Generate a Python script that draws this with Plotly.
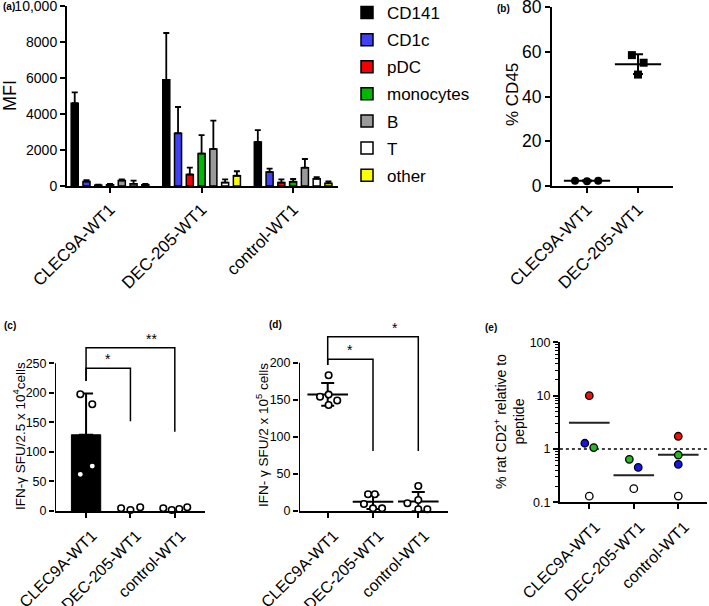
import numpy as np
import plotly.graph_objects as go

W, H = 709, 606
FONT = "Liberation Sans, Arial, sans-serif"

groups = ["CLEC9A-WT1", "DEC-205-WT1", "control-WT1"]

# (a) MFI per cell subset (mean and upper error)
cells = ["CD141", "CD1c", "pDC", "monocytes", "B", "T", "other"]
cd141 = [4600, 5900, 2450]
cd1c = [250, 2930, 780]
pdc = [50, 640, 190]
monocytes = [70, 1800, 240]
b_cells = [300, 2060, 1020]
t_cells = [120, 190, 400]
other = [70, 570, 150]
cd141_err = [600, 2600, 650]
cd1c_err = [80, 1460, 190]
pdc_err = [20, 380, 180]
monocytes_err = [40, 1030, 150]
b_cells_err = [60, 1570, 480]
t_cells_err = [180, 180, 90]
other_err = [50, 250, 110]
cell_colors = ["#000000", "#4040f4", "#f40000", "#00b800", "#9a9a9a", "#ffffff", "#ffff00"]

# (b) % CD45
cd45_clec9a = [2.4, 2.1, 2.4]
cd45_dec205 = [58.5, 55.1, 49.8]

# (c) IFN-g SFU / 2.5 x 10^4 cells
c_clec9a = [197.5, 180.6, 62, 76]
c_dec205 = [4.6, 1.7, 6.3]
c_control = [4.6, 1.7, 3.4, 6.3]

# (d) IFN-g SFU / 2 x 10^5 cells
d_clec9a = [183, 154, 157, 149, 143]
d_dec205 = [22.5, 22.5, 9.4, 3.6, 3.6]
d_control = [33.7, 10.4, 14.8, 2.3, 2.3]

# (e) % rat CD2+ relative to peptide
e_clec9a = [10, 1.28, 1.06, 0.13]
e_dec205 = [0.64, 0.45, 0.18]
e_control = [1.73, 0.77, 0.516, 0.131]
e_means = [3.1, 0.32, 0.78]
e_clec9a_col = ["red", "blue", "green", "white"]
e_dec205_col = ["green", "blue", "white"]
e_control_col = ["red", "green", "blue", "white"]

# significance brackets: (height, left leg end, right leg end, right group, label)
c_brackets = [(276.5, 220, 134, 2, "**"), (241.6, 220, 152, 1, "*")]
d_brackets = [(235, 197, 81, 2, "*"), (204.6, 197, 81, 1, "*")]

# jitter of the dots within a column (layout only)
jit_b = [[-0.235, 0, 0.22], [-0.12, 0.11, 0]]
jit_c = [[-0.13, 0.14, -0.13, 0.14], [-0.21, 0, 0.22], [-0.26, -0.07, 0.1, 0.28]]
jit_d = [[0.02, -0.17, 0.02, 0.21, 0.02], [-0.11, 0.04, -0.2, 0, 0.2], [0, -0.24, 0, 0, 0.2]]
jit_e = [[0, -0.1, 0.1, 0], [-0.1, 0.1, 0], [0, 0, 0, 0]]
pal_e = {"red": "#ee1111", "blue": "#1515ee", "green": "#22bb22", "white": "#ffffff"}


def xd(p0, p1):
    return [p0 / W, p1 / W]


def yd(pb, pt):
    return [1 - pb / H, 1 - pt / H]


def axis(domain, rng, anchor, fs, **kw):
    d = dict(domain=domain, range=rng, anchor=anchor, showline=True, linewidth=2,
             linecolor="black", ticks="outside", ticklen=5, tickwidth=2, tickcolor="black",
             showgrid=False, zeroline=False, fixedrange=True, automargin=False,
             ticklabeloverflow="allow",
             tickfont=dict(family=FONT, size=fs, color="black"))
    d.update(kw)
    return d


fig = go.Figure()

# ---- (a)
means_a = [cd141, cd1c, pdc, monocytes, b_cells, t_cells, other]
errs_a = [cd141_err, cd1c_err, pdc_err, monocytes_err, b_cells_err, t_cells_err, other_err]
for name, m, e, col in zip(cells, means_a, errs_a, cell_colors):
    fig.add_trace(go.Bar(
        x=[0, 1, 2], y=m, name=name, legendgroup=name, marker_color=col,
        marker_line=dict(color="black", width=1.5),
        error_y=dict(type="data", symmetric=False, array=e, arrayminus=[0, 0, 0],
                     color="black", thickness=1.8, width=3),
        xaxis="x", yaxis="y"))

# ---- (b)
for i, (vals, sym) in enumerate([(cd45_clec9a, "circle"), (cd45_dec205, "square")]):
    fig.add_trace(go.Scatter(
        x=[i + j for j in jit_b[i]], y=vals, mode="markers",
        marker=dict(symbol=sym, size=8, color="black"),
        showlegend=False, xaxis="x2", yaxis="y2"))
    fig.add_trace(go.Scatter(
        x=[i], y=[np.mean(vals)], mode="markers",
        marker=dict(symbol="line-ew", size=33, line=dict(width=2, color="black")),
        error_y=dict(type="data", array=[np.std(vals, ddof=1)], color="black", thickness=2, width=5),
        showlegend=False, xaxis="x2", yaxis="y2"))

# ---- (c)
c_sets = [c_clec9a, c_dec205, c_control]
fig.add_trace(go.Bar(
    x=[0], y=[np.mean(c_clec9a)], width=0.66, marker_color="black",
    marker_line=dict(color="black", width=1),
    error_y=dict(type="data", symmetric=False, array=[np.std(c_clec9a, ddof=1)],
                 arrayminus=[0], color="black", thickness=2, width=7),
    showlegend=False, xaxis="x3", yaxis="y3"))
for i, vals in enumerate(c_sets):
    fig.add_trace(go.Scatter(
        x=[i + j for j in jit_c[i]], y=vals, mode="markers", cliponaxis=False,
        marker=dict(symbol="circle", size=6.5, color="white", line=dict(width=1.6, color="black")),
        showlegend=False, xaxis="x3", yaxis="y3"))

# ---- (d)
d_sets = [d_clec9a, d_dec205, d_control]
for i, vals in enumerate(d_sets):
    fig.add_trace(go.Scatter(
        x=[i], y=[np.mean(vals)], mode="markers",
        marker=dict(symbol="line-ew", size=29, line=dict(width=2, color="black")),
        error_y=dict(type="data", array=[np.std(vals, ddof=1)], color="black", thickness=2, width=6.5),
        showlegend=False, xaxis="x4", yaxis="y4"))
    fig.add_trace(go.Scatter(
        x=[i + j for j in jit_d[i]], y=vals, mode="markers", cliponaxis=False,
        marker=dict(symbol="circle", size=6.5, color="white", line=dict(width=1.6, color="black")),
        showlegend=False, xaxis="x4", yaxis="y4"))

# brackets for (c) and (d)
for xa, ya, brs in [("x3", "y3", c_brackets), ("x4", "y4", d_brackets)]:
    for (hgt, l_end, r_end, grp, lab) in brs:
        fig.add_trace(go.Scatter(
            x=[0, 0, grp, grp], y=[l_end, hgt, hgt, r_end], mode="lines", cliponaxis=False,
            line=dict(color="black", width=1.5), showlegend=False, xaxis=xa, yaxis=ya))
        fig.add_annotation(x=0.5 if grp == 1 else 1.48, y=hgt, xref=xa, yref=ya,
                           text=lab, showarrow=False, xanchor="center", yanchor="bottom", yshift=-1,
                           font=dict(family=FONT, size=14, color="black"))

# ---- (e)
e_sets = [(e_clec9a, e_clec9a_col), (e_dec205, e_dec205_col), (e_control, e_control_col)]
fig.add_trace(go.Scatter(
    x=[-0.66, 2.75], y=[1, 1], mode="lines", cliponaxis=False,
    line=dict(color="black", width=1.5, dash="dot"), showlegend=False, xaxis="x5", yaxis="y5"))
fig.add_trace(go.Scatter(
    x=[0, 1, 2], y=e_means, mode="markers",
    marker=dict(symbol="line-ew", size=29, line=dict(width=2, color="#222222")),
    showlegend=False, xaxis="x5", yaxis="y5"))
for i, (vals, cols) in enumerate(e_sets):
    fig.add_trace(go.Scatter(
        x=[i + j for j in jit_e[i]], y=vals, mode="markers", cliponaxis=False,
        marker=dict(symbol="circle", size=7.5, color=[pal_e[c] for c in cols],
                    line=dict(width=1.3, color="black")),
        showlegend=False, xaxis="x5", yaxis="y5"))

# y axis lines of (c) and (d) stop at the top tick
for xa, ya, x0, top in [("x3", "y3", -0.70, 250), ("x4", "y4", -0.634, 200)]:
    fig.add_trace(go.Scatter(x=[x0, x0], y=[0, top], mode="lines", cliponaxis=False,
                             line=dict(color="black", width=2), showlegend=False,
                             xaxis=xa, yaxis=ya))

cat = dict(tickvals=[0, 1, 2], ticktext=groups, tickangle=-45)
low = dict(ticklabelstandoff=2, ticklabelshift=6)

fig.update_layout(
    template="none",
    width=W, height=H, margin=dict(l=0, r=0, t=0, b=0, autoexpand=False),
    plot_bgcolor="white", paper_bgcolor="white",
    barmode="group", bargap=0.1, bargroupgap=0.4,
    font=dict(family=FONT, color="black"),
    showlegend=True,
    legend=dict(x=347 / W, y=1 + 5 / H, xanchor="left", yanchor="top",
                font=dict(family=FONT, size=17, color="black"),
                tracegroupgap=2, bgcolor="rgba(0,0,0,0)", itemclick=False),
    xaxis=axis(xd(67, 338), [-0.47, 2.49], "y", 17, **cat),
    yaxis=axis(yd(186, 6), [0, 10000], "x", 14,
               tickvals=[0, 2000, 4000, 6000, 8000, 10000],
               ticktext=["0", "2000", "4000", "6000", "8000", "10,000"]),
    xaxis2=axis(xd(552, 673), [-0.686, 1.686], "y2", 17,
                tickvals=[0, 1], ticktext=groups[:2], tickangle=-45),
    yaxis2=axis(yd(186, 7), [0, 80], "x2", 17.5, tickvals=[0, 20, 40, 60, 80]),
    xaxis3=axis(xd(55, 205), [-0.70, 2.68], "y3", 16, **low, **cat),
    yaxis3=axis(yd(511, 511 - 285 * 147.7 / 250), [0, 285], "x3", 12.5, showline=False,
                tickvals=[0, 50, 100, 150, 200, 250]),
    xaxis4=axis(xd(299, 448), [-0.634, 2.656], "y4", 16, **low, **cat),
    yaxis4=axis(yd(511, 511 - 240 * 148.3 / 200), [0, 240], "x4", 12.5, showline=False,
                tickvals=[0, 50, 100, 150, 200]),
    xaxis5=axis(xd(560, 707), [-0.658, 2.645], "y5", 16, **low, **cat),
    yaxis5=axis(yd(502.3, 342.3), [-1, 2], "x5", 12.5, type="log",
                tickmode="linear", tick0=0, dtick=1,
                minor=dict(ticks="outside", ticklen=3, tickwidth=1, tickcolor="black", dtick="D1")),
)

# y titles and panel letters
titles = [
    (10, 96, "MFI", 18),
    (512, 95, "% CD45", 17),
    (19, 436, "IFN-\u03b3 SFU/2.5 x 10<sup>4</sup>cells", 13.5),
    (262, 435, "IFN- \u03b3 SFU/2 x 10<sup>5</sup> cells", 13.5),
    (509, 422, "% rat CD2<sup>+</sup> relative to<br>peptide", 14),
]
for x, y, t, fs in titles:
    fig.add_annotation(x=x / W, y=1 - y / H, xref="paper", yref="paper", text=t, textangle=-90,
                       xanchor="center", yanchor="middle", showarrow=False,
                       font=dict(family=FONT, size=fs, color="black"))
for x, y, t in [(1, 7, "(a)"), (495, 8, "(b)"), (2, 325, "(c)"), (267, 324, "(d)"), (483, 327, "(e)")]:
    fig.add_annotation(x=x / W, y=1 - y / H, xref="paper", yref="paper", text="<b>%s</b>" % t,
                       xanchor="left", yanchor="middle", showarrow=False,
                       font=dict(family=FONT, size=10, color="black"))

# the page body has a default 8px margin; drop it so the figure sits at the window corner
fig.write_html("out.html", config={"displayModeBar": False},
               post_script="document.body.style.margin = '0';")
